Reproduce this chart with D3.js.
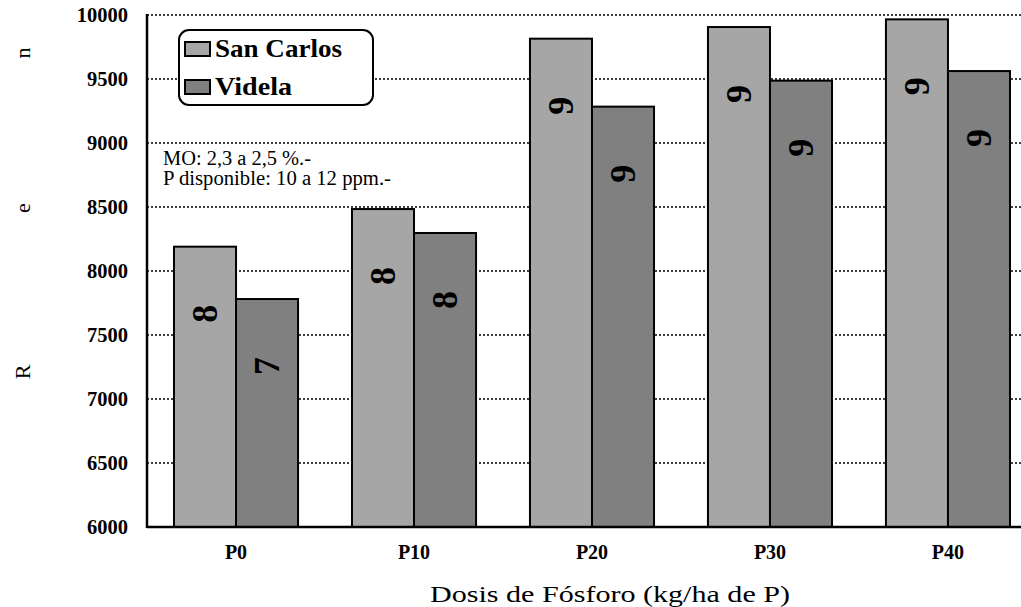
<!DOCTYPE html>
<html>
<head>
<meta charset="utf-8">
<script src="https://cdn.jsdelivr.net/npm/d3@7"></script>
<style>
  body { margin: 0; background: #fff; }
  svg { display: block; font-family: "Liberation Serif", "Times New Roman", serif; }
</style>
</head>
<body>
<div id="chart"></div>
<script>
// data
const categories = ["P0", "P10", "P20", "P30", "P40"]
const series = ["San Carlos", "Videla"]
const sanCarlos = [8190, 8484, 9815, 9906, 9966]
const videla = [7781, 8297, 9284, 9487, 9562]
const yTicks = [6000, 6500, 7000, 7500, 8000, 8500, 9000, 9500, 10000]
const notes = ["MO: 2,3 a 2,5 %.-", "P disponible: 10 a 12 ppm.-"]
const yTitleLetters = ["R", "e", "n"]
const colors = ["#a6a6a6", "#808080"]

const WIDTH = 1021, HEIGHT = 607
const MARGIN = { LEFT: 147, TOP: 15, BOTTOM: 80 }
const STEP = 178

const svg = d3.select("#chart").append("svg")
  .attr("width", WIDTH)
  .attr("height", HEIGHT)

const x = d3.scaleBand()
  .domain(categories)
  .range([MARGIN.LEFT, MARGIN.LEFT + STEP * categories.length])
  .paddingInner(0.303)
  .paddingOuter(0.1517)

const xSub = d3.scaleBand()
  .domain(series)
  .range([0, x.bandwidth()])

const y = d3.scaleLinear()
  .domain([6000, 10000])
  .range([HEIGHT - MARGIN.BOTTOM, MARGIN.TOP])

// gridlines
svg.append("g")
  .selectAll("line")
  .data(yTicks.slice(1))
  .enter().append("line")
    .attr("x1", MARGIN.LEFT)
    .attr("x2", WIDTH)
    .attr("y1", d => y(d))
    .attr("y2", d => y(d))
    .attr("stroke", "#000")
    .attr("stroke-width", 1.6)
    .attr("stroke-dasharray", "2,2")

// bars
const rows = categories.map((c, i) => ({ cat: c, values: [sanCarlos[i], videla[i]] }))

const groups = svg.append("g")
  .selectAll("g")
  .data(rows)
  .enter().append("g")
    .attr("transform", d => `translate(${x(d.cat)},0)`)

groups.selectAll("rect")
  .data(d => d.values.map((v, j) => ({ s: series[j], v: v, j: j })))
  .enter().append("rect")
    .attr("x", d => xSub(d.s))
    .attr("y", d => y(d.v))
    .attr("width", xSub.bandwidth())
    .attr("height", d => y(6000) - y(d.v))
    .attr("fill", d => colors[d.j])
    .attr("stroke", "#000")
    .attr("stroke-width", 2)

// value labels (only first digit shows)
groups.selectAll("text")
  .data(d => d.values.map((v, j) => ({ s: series[j], v: v })))
  .enter().append("text")
    .attr("transform", d => `translate(${xSub(d.s) + xSub.bandwidth() / 2},${y(d.v) + 67}) rotate(-90)`)
    .attr("text-anchor", "middle")
    .attr("dominant-baseline", "central")
    .attr("font-size", "36px")
    .attr("font-weight", "bold")
    .text(d => String(d.v)[0])

// axes
svg.append("line")
  .attr("x1", MARGIN.LEFT).attr("x2", MARGIN.LEFT)
  .attr("y1", y(10000) - 1).attr("y2", y(6000) + 1)
  .attr("stroke", "#000").attr("stroke-width", 2.5)

svg.append("line")
  .attr("x1", MARGIN.LEFT).attr("x2", WIDTH)
  .attr("y1", y(6000)).attr("y2", y(6000))
  .attr("stroke", "#000").attr("stroke-width", 2.5)

svg.append("g")
  .selectAll("text")
  .data(yTicks)
  .enter().append("text")
    .attr("x", MARGIN.LEFT - 19)
    .attr("y", d => y(d))
    .attr("dy", "0.35em")
    .attr("text-anchor", "end")
    .attr("font-size", "20.5px")
    .attr("font-weight", "bold")
    .text(d => d)

svg.append("g")
  .selectAll("text")
  .data(categories)
  .enter().append("text")
    .attr("x", d => x(d) + x.bandwidth() / 2)
    .attr("y", y(6000) + 32)
    .attr("text-anchor", "middle")
    .attr("font-size", "20px")
    .attr("font-weight", "bold")
    .text(d => d)

// axis titles
svg.append("text")
  .attr("x", 430)
  .attr("y", 602)
  .attr("font-size", "24px")
  .attr("textLength", 360)
  .attr("lengthAdjust", "spacingAndGlyphs")
  .text("Dosis de Fósforo (kg/ha de P)")

const letterY = [372, 208, 53]
svg.append("g")
  .selectAll("text")
  .data(yTitleLetters)
  .enter().append("text")
    .attr("transform", (d, i) => `translate(22,${letterY[i]}) rotate(-90)`)
    .attr("text-anchor", "middle")
    .attr("dominant-baseline", "central")
    .attr("font-size", "22px")
    .text(d => d)

// notes
const noteWidths = [148, 228]
svg.append("g")
  .selectAll("text")
  .data(notes)
  .enter().append("text")
    .attr("x", 163)
    .attr("y", (d, i) => 165 + i * 20)
    .attr("font-size", "20px")
    .attr("textLength", (d, i) => noteWidths[i])
    .attr("lengthAdjust", "spacingAndGlyphs")
    .text(d => d)

// legend
const legend = svg.append("g")
legend.append("rect")
  .attr("x", 179).attr("y", 30)
  .attr("width", 194).attr("height", 75)
  .attr("rx", 10)
  .attr("fill", "#fff")
  .attr("stroke", "#000")
  .attr("stroke-width", 2)

const legendWidths = [127, 77]
series.forEach((s, i) => {
  legend.append("rect")
    .attr("x", 185).attr("y", 42 + i * 38)
    .attr("width", 25).attr("height", 14)
    .attr("fill", colors[i])
    .attr("stroke", "#000")
    .attr("stroke-width", 2)
  legend.append("text")
    .attr("x", 215).attr("y", 57 + i * 38)
    .attr("font-size", "25px")
    .attr("font-weight", "bold")
    .attr("textLength", legendWidths[i])
    .attr("lengthAdjust", "spacingAndGlyphs")
    .text(s)
})
</script>
</body>
</html>
